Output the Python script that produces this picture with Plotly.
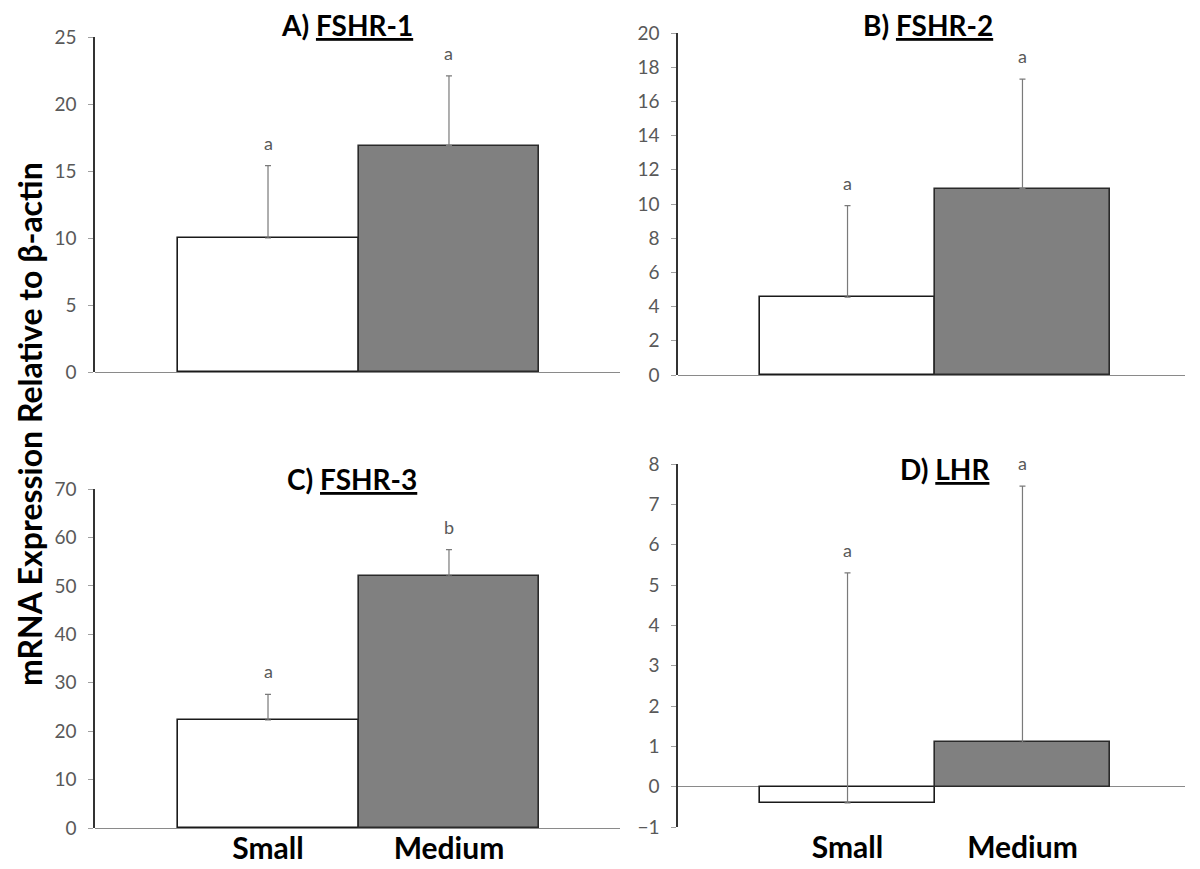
import plotly.graph_objects as go

# ---- data ----
categories = ["Small", "Medium"]
cat_pos = [1, 2]

panel_labels = ["A)", "B)", "C)", "D)"]
panel_genes = ["FSHR-1", "FSHR-2", "FSHR-3", "LHR"]

fshr1_mean = [10.0, 16.9]
fshr1_top = [15.4, 22.1]
fshr1_letters = ["a", "a"]

fshr2_mean = [4.55, 10.9]
fshr2_top = [9.9, 17.3]
fshr2_letters = ["a", "a"]

fshr3_mean = [22.3, 52.0]
fshr3_top = [27.6, 57.5]
fshr3_letters = ["a", "b"]

lhr_mean = [-0.4, 1.1]
lhr_top = [5.3, 7.45]
lhr_letters = ["a", "a"]

y_ranges = [[0, 25], [0, 20], [0, 70], [-1, 8]]
y_dticks = [5, 2, 10, 1]

means = [fshr1_mean, fshr2_mean, fshr3_mean, lhr_mean]
tops = [fshr1_top, fshr2_top, fshr3_top, lhr_top]
letters = [fshr1_letters, fshr2_letters, fshr3_letters, lhr_letters]

# ---- layout geometry (page pixels; page body has an 8px margin) ----
OFF = 8
W, H = 1200 - OFF, 869 - OFF


def px(x):
    return (x - OFF) / W


def py(y):
    return 1 - (y - OFF) / H


x_doms_px = [(95, 620), (678, 1185), (95, 620), (678, 1185)]
x_ranges = [[0.044, 2.945], [0.031, 2.929], [0.044, 2.945], [0.031, 2.929]]
y_doms_px = [(37, 372), (33, 375), (489, 828), (464, 827)]
title_px = [(347, 25), (928, 25), (352, 479), (945, 469)]

FONT = "Lato"
fig = go.Figure()
layout = dict(
    width=W, height=H,
    margin=dict(l=0, r=0, t=0, b=0, pad=0, autoexpand=False),
    paper_bgcolor="white", plot_bgcolor="white",
    showlegend=False, bargap=0,
    font=dict(family=FONT),
)
annotations = []

for i in range(4):
    xa = "x" if i == 0 else f"x{i+1}"
    ya = "y" if i == 0 else f"y{i+1}"
    xkey = "xaxis" if i == 0 else f"xaxis{i+1}"
    ykey = "yaxis" if i == 0 else f"yaxis{i+1}"
    plus = [t - m for t, m in zip(tops[i], means[i])]
    fig.add_trace(go.Bar(
        x=cat_pos, y=means[i], width=[1, 1],
        xaxis=xa, yaxis=ya,
        marker=dict(color=["white", "#808080"],
                    line=dict(color=["#1a1a1a", "#2a2a2a"], width=1.6)),
        error_y=dict(type="data", array=plus, arrayminus=[0, 0],
                     symmetric=False, color="#7a7a7a", thickness=1.2, width=3),
        hoverinfo="skip",
    ))
    x0, x1 = x_doms_px[i]
    yt, yb = y_doms_px[i]
    show_cats = i >= 2
    layout[xkey] = dict(
        domain=[px(x0), px(x1)], range=x_ranges[i], anchor=ya,
        showgrid=False, zeroline=False, showline=False, ticks="",
        tickvals=cat_pos, ticktext=categories, showticklabels=show_cats,
        tickfont=dict(family=FONT, size=30, color="black", weight="bold"),
        automargin=False, fixedrange=True,
    )
    layout[ykey] = dict(
        domain=[py(yb), py(yt)], range=y_ranges[i], anchor=xa,
        dtick=y_dticks[i], tick0=0,
        showgrid=False, showline=True, linecolor="#333333", linewidth=1.5,
        ticks="outside", ticklen=5, tickcolor="#a0a0a0", tickwidth=1,
        ticklabelstandoff=8,
        zeroline=True, zerolinecolor="#8a8a8a", zerolinewidth=1.4,
        tickfont=dict(family=FONT, size=19, color="#595959"),
        automargin=False, fixedrange=True,
    )
    tx, ty = title_px[i]
    annotations.append(dict(
        xref="paper", yref="paper", x=px(tx), y=py(ty),
        text=f"<b>{panel_labels[i]} <u>{panel_genes[i]}</u></b>",
        showarrow=False, xanchor="center", yanchor="middle", borderpad=0,
        font=dict(family=FONT, size=28, color="black"),
    ))
    for j in range(2):
        annotations.append(dict(
            xref=xa, yref=ya, x=cat_pos[j], y=tops[i][j],
            text=letters[i][j], showarrow=False,
            xanchor="center", yanchor="bottom", yshift=10,
            font=dict(family=FONT, size=18, color="#595959"),
        ))

annotations.append(dict(
    xref="paper", yref="paper", x=px(29), y=py(424),
    text="<b>mRNA Expression Relative to β-actin</b>",
    textangle=-90, showarrow=False, xanchor="center", yanchor="middle",
    borderpad=0,
    font=dict(family=FONT, size=32, color="black"),
))
layout["annotations"] = annotations
fig.update_layout(**layout)
fig.write_html("out.html")
